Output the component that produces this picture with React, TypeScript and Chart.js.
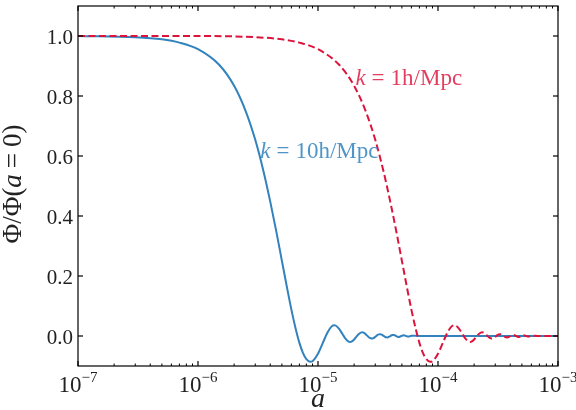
import React, { useEffect, useRef } from "react";
import { Chart, registerables } from "chart.js";

Chart.register(...registerables);

// k = 10 h/Mpc
const aBlue = [
  1e-7, 3e-7, 5e-7, 7e-7, 1e-6, 1.5e-6, 2e-6, 2.5e-6, 3e-6, 3.5e-6, 4e-6, 4.5e-6, 5e-6, 5.5e-6,
  6e-6, 6.5e-6, 7e-6, 7.5e-6, 8e-6, 8.65e-6, 9e-6, 1e-5, 1.1e-5, 1.2e-5, 1.3e-5, 1.366e-5, 1.4e-5,
  1.5e-5, 1.6e-5, 1.7e-5, 1.8e-5, 1.85e-5, 1.9e-5, 2e-5, 2.1e-5, 2.2e-5, 2.3e-5, 2.33e-5, 2.4e-5,
  2.5e-5, 2.6e-5, 2.7e-5, 2.8e-5, 2.9e-5, 3e-5, 3.1e-5, 3.2e-5, 3.3e-5, 3.4e-5, 3.5e-5, 3.6e-5,
  3.7e-5, 3.8e-5, 3.9e-5, 4e-5, 4.1e-5, 4.2e-5, 4.3e-5, 4.4e-5, 4.5e-5, 4.6e-5, 4.7e-5, 4.8e-5,
  5e-5, 5.2e-5, 5.5e-5, 5.7e-5, 6e-5, 7e-5, 1e-4, 1e-3,
];
const phiBlue = [
  1.0, 0.996, 0.989, 0.978, 0.956, 0.904, 0.834, 0.749, 0.654, 0.552, 0.448, 0.347, 0.251, 0.164,
  0.088, 0.026, -0.023, -0.057, -0.077, -0.086, -0.084, -0.059, -0.022, 0.012, 0.032, 0.036, 0.035,
  0.024, 0.0065, -0.0095, -0.0184, -0.0196, -0.0185, -0.0115, -0.0012, 0.0077, 0.0121, 0.0124, 0.0111,
  0.0058, -0.0009, -0.0064, -0.0085, -0.007, -0.0029, 0.0019, 0.0053, 0.0062, 0.0045, 0.0011, -0.0023,
  -0.0045, -0.0046, -0.0028, -0.0001, 0.0024, 0.0037, 0.0034, 0.0017, -0.0005, -0.0024, -0.0031, -0.0025,
  0.0009, 0.0025, -0.0011, -0.002, 0.0012, 0.0, 0.0, 0.0,
];

// k = 1 h/Mpc
const aRed = [
  1e-7, 1e-6, 3e-6, 5e-6, 7e-6, 1e-5, 1.5e-5, 2e-5, 2.5e-5, 3e-5, 3.5e-5, 4e-5, 4.5e-5, 5e-5, 5.5e-5,
  6e-5, 6.5e-5, 7e-5, 7.5e-5, 8e-5, 8.65e-5, 9e-5, 1e-4, 1.1e-4, 1.2e-4, 1.3e-4, 1.366e-4, 1.4e-4,
  1.5e-4, 1.6e-4, 1.7e-4, 1.8e-4, 1.85e-4, 1.9e-4, 2e-4, 2.1e-4, 2.2e-4, 2.3e-4, 2.33e-4, 2.4e-4,
  2.5e-4, 2.6e-4, 2.7e-4, 2.8e-4, 2.9e-4, 3e-4, 3.1e-4, 3.2e-4, 3.3e-4, 3.4e-4, 3.5e-4, 3.6e-4,
  3.7e-4, 3.8e-4, 3.9e-4, 4e-4, 4.1e-4, 4.2e-4, 4.3e-4, 4.4e-4, 4.5e-4, 4.6e-4, 4.7e-4, 4.8e-4,
  5e-4, 5.2e-4, 5.5e-4, 5.7e-4, 6e-4, 7e-4, 1e-3,
];
const phiRed = [
  1.0, 1.0, 0.996, 0.989, 0.978, 0.956, 0.904, 0.834, 0.749, 0.654, 0.552, 0.448, 0.347, 0.251, 0.164,
  0.088, 0.026, -0.023, -0.057, -0.077, -0.086, -0.084, -0.059, -0.022, 0.012, 0.032, 0.036, 0.035,
  0.024, 0.0065, -0.0095, -0.0184, -0.0196, -0.0185, -0.0115, -0.0012, 0.0077, 0.0121, 0.0124, 0.0111,
  0.0058, -0.0009, -0.0064, -0.0085, -0.007, -0.0029, 0.0019, 0.0053, 0.0062, 0.0045, 0.0011, -0.0023,
  -0.0045, -0.0046, -0.0028, -0.0001, 0.0024, 0.0037, 0.0034, 0.0017, -0.0005, -0.0024, -0.0031, -0.0025,
  0.0009, 0.0025, -0.0011, -0.002, 0.0012, 0.0, 0.0,
];

const yTickValues = [0, 0.2, 0.4, 0.6, 0.8, 1.0];
const yTickLabels = ["0.0", "0.2", "0.4", "0.6", "0.8", "1.0"];
const xDecades = [1e-7, 1e-6, 1e-5, 1e-4, 1e-3];
const xDecadeExponents = ["\u22127", "\u22126", "\u22125", "\u22124", "\u22123"];
const minorMultipliers = [2, 3, 4, 5, 6, 7, 8, 9];

const seriesLabels = ["10h/Mpc", "1h/Mpc"];
// annotation anchor points (data coordinates)
const labelA = [3.3e-6, 2.05e-5];
const labelY = [0.593, 0.837];

const BLUE = "#3182bd";
const RED = "#dc143c";
const BLUE_TEXT = "rgba(49,130,189,0.85)";
const RED_TEXT = "rgba(220,20,60,0.82)";
const SERIF = '"Liberation Serif", "DejaVu Serif", serif';

type Part = [string, string, number];

function drawRich(ctx: CanvasRenderingContext2D, parts: Part[], x: number, y: number, center: boolean) {
  let total = 0;
  parts.forEach(([t, f, gap]) => {
    ctx.font = f;
    total += ctx.measureText(t).width + gap;
  });
  let cx = center ? x - total / 2 : x;
  ctx.textAlign = "left";
  parts.forEach(([t, f, gap]) => {
    ctx.font = f;
    ctx.fillText(t, cx, y);
    cx += ctx.measureText(t).width + gap;
  });
}

const framePlugin = {
  id: "frame",
  afterDraw(chart: any) {
    const { ctx, chartArea: ca, scales } = chart;
    const xs = scales.x;
    const ys = scales.y;
    ctx.save();
    ctx.strokeStyle = "#000";
    ctx.lineWidth = 1.2;
    ctx.strokeRect(ca.left, ca.top, ca.right - ca.left, ca.bottom - ca.top);

    const line = (x1: number, y1: number, x2: number, y2: number, w: number) => {
      ctx.lineWidth = w;
      ctx.beginPath();
      ctx.moveTo(x1, y1);
      ctx.lineTo(x2, y2);
      ctx.stroke();
    };

    // y ticks + labels
    ctx.fillStyle = "#222";
    ctx.font = `21px ${SERIF}`;
    ctx.textAlign = "right";
    ctx.textBaseline = "alphabetic";
    yTickValues.forEach((v, i) => {
      const py = ys.getPixelForValue(v);
      line(ca.left, py, ca.left + 5, py, 1.2);
      line(ca.right, py, ca.right - 5, py, 1.2);
      ctx.font = `21px ${SERIF}`;
      ctx.textAlign = "right";
      ctx.fillText(yTickLabels[i], ca.left - 5, py + 8);
    });

    // x ticks + labels
    xDecades.forEach((d, i) => {
      const px = xs.getPixelForValue(d);
      line(px, ca.bottom, px, ca.bottom - 5, 1.2);
      line(px, ca.top, px, ca.top + 5, 1.2);
      if (i < xDecades.length - 1) {
        minorMultipliers.forEach((m) => {
          const pm = xs.getPixelForValue(m * d);
          line(pm, ca.bottom, pm, ca.bottom - 2.5, 1);
          line(pm, ca.top, pm, ca.top + 2.5, 1);
        });
      }
      ctx.font = `23px ${SERIF}`;
      const wBase = ctx.measureText("10").width;
      ctx.font = `15px ${SERIF}`;
      const wExp = ctx.measureText(xDecadeExponents[i]).width;
      const start = px - (wBase + wExp) / 2;
      ctx.textAlign = "left";
      ctx.font = `23px ${SERIF}`;
      ctx.fillText("10", start, ca.bottom + 26);
      ctx.font = `15px ${SERIF}`;
      ctx.fillText(xDecadeExponents[i], start + wBase, ca.bottom + 16);
    });

    // x axis title
    ctx.font = `italic 28px ${SERIF}`;
    ctx.textAlign = "center";
    ctx.fillText("a", (ca.left + ca.right) / 2, 407);

    // y axis title
    ctx.save();
    ctx.translate(21, (ca.top + ca.bottom) / 2 - 2);
    ctx.rotate(-Math.PI / 2);
    drawRich(
      ctx,
      [
        ["Φ/Φ(", `27px ${SERIF}`, 0],
        ["a", `italic 27px ${SERIF}`, 6],
        ["=", `27px ${SERIF}`, 6],
        ["0)", `27px ${SERIF}`, 0],
      ],
      0,
      0,
      true
    );
    ctx.restore();

    // series annotations
    const colors = [BLUE_TEXT, RED_TEXT];
    seriesLabels.forEach((lab, i) => {
      const px = xs.getPixelForValue(labelA[i]);
      const py = ys.getPixelForValue(labelY[i]);
      ctx.fillStyle = colors[i];
      drawRich(
        ctx,
        [
          ["k", `italic 23px ${SERIF}`, 6],
          ["=", `23px ${SERIF}`, 6],
          [lab, `23px ${SERIF}`, 0],
        ],
        px,
        py,
        false
      );
    });

    ctx.restore();
  },
};

export default function App() {
  const ref = useRef<HTMLCanvasElement | null>(null);
  useEffect(() => {
    document.body.style.margin = "0";
    const canvas = ref.current;
    if (!canvas) return;
    const chart = new Chart(canvas, {
      type: "line",
      data: {
        datasets: [
          {
            label: "k = 1h/Mpc",
            data: aRed.map((a, i) => ({ x: a, y: phiRed[i] })),
            borderColor: RED,
            borderWidth: 2,
            borderDash: [7, 3.5],
            pointRadius: 0,
            fill: false,
            cubicInterpolationMode: "monotone",
            order: 1,
          },
          {
            label: "k = 10h/Mpc",
            data: aBlue.map((a, i) => ({ x: a, y: phiBlue[i] })),
            borderColor: BLUE,
            borderWidth: 2,
            pointRadius: 0,
            fill: false,
            cubicInterpolationMode: "monotone",
            order: 2,
          },
        ],
      },
      options: {
        animation: false,
        responsive: false,
        maintainAspectRatio: false,
        layout: { padding: { left: 78, top: 6, right: 18, bottom: 44 } },
        plugins: { legend: { display: false }, tooltip: { enabled: false } },
        scales: {
          x: { type: "logarithmic", min: 1e-7, max: 1e-3, display: false },
          y: { type: "linear", min: -0.1, max: 1.1, display: false },
        },
      },
      plugins: [framePlugin],
    } as any);
    return () => chart.destroy();
  }, []);
  return (
    <div style={{ position: "absolute", left: 0, top: 0, width: 576, height: 410, background: "#fff" }}>
      <canvas ref={ref} width={576} height={410} style={{ width: 576, height: 410, display: "block" }} />
    </div>
  );
}
